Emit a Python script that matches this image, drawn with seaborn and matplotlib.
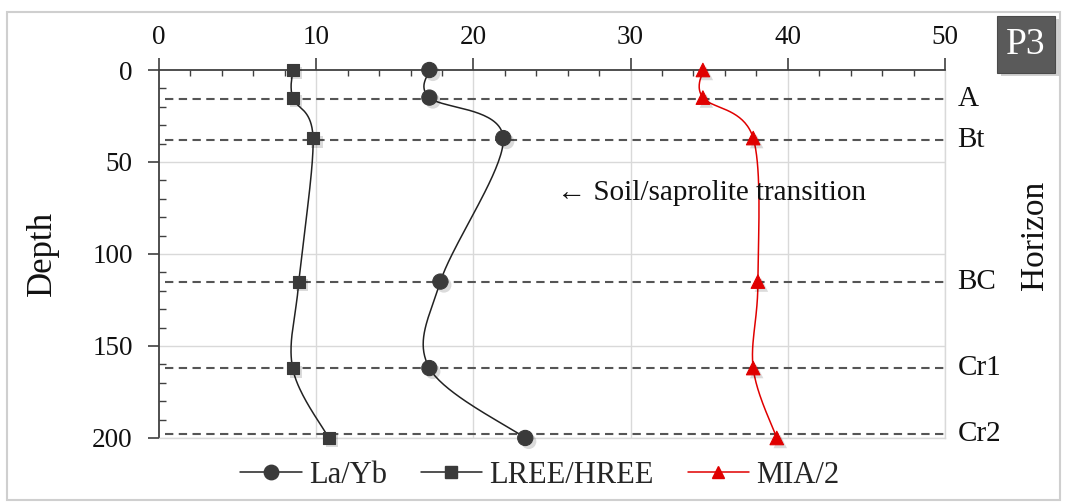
import numpy as np
import pandas as pd
import matplotlib
matplotlib.use("Agg")
import matplotlib.pyplot as plt
import seaborn as sns
from matplotlib import patheffects as pe
from matplotlib.lines import Line2D
from matplotlib.patches import Rectangle

# Profile P3 data
depth = [0, 15, 37, 115, 162, 200]
la_yb = [17.2, 17.2, 21.9, 17.9, 17.2, 23.3]
lree_hree = [8.5, 8.5, 9.8, 8.9, 8.5, 10.8]
mia_half = [34.6, 34.6, 37.8, 38.1, 37.8, 39.3]

horizons = ["A", "Bt", "BC", "Cr1", "Cr2"]
horizon_depth = [16, 38, 115, 162, 198]

x_ticks = [0, 10, 20, 30, 40, 50]
y_ticks = [0, 50, 100, 150, 200]

sns.set_style("white")
SERIF = ["Liberation Serif", "DejaVu Serif"]
plt.rcParams["font.family"] = SERIF

fig = plt.figure(figsize=(10.65, 5.04), dpi=100)
ax = fig.add_axes([0.1493, 0.1310, 0.7380, 0.7301])
ax.set_xlim(0, 50)
ax.set_ylim(200, 0)

DARK = "#404040"
GRID = "#d9d9d9"


def smooth(xs, ys, n=40):
    """Bezier smoothing in display space (spreadsheet-style smoothed line)."""
    pts = ax.transData.transform(np.column_stack([xs, ys]))
    m = len(pts)
    out = []
    for i in range(m - 1):
        p0 = pts[i]
        p1 = pts[i + 1]
        pm = pts[i - 1] if i > 0 else pts[i]
        pn = pts[i + 2] if i + 2 < m else pts[i + 1]
        c1 = p0 + (p1 - pm) / 6.0
        c2 = p1 - (pn - p0) / 6.0
        t = np.linspace(0, 1, n)[:, None]
        seg = ((1 - t) ** 3) * p0 + 3 * ((1 - t) ** 2) * t * c1 + 3 * (1 - t) * t ** 2 * c2 + t ** 3 * p1
        out.append(seg if i == 0 else seg[1:])
    curve = ax.transData.inverted().transform(np.vstack(out))
    return pd.DataFrame({"x": curve[:, 0], "depth": curve[:, 1]})


# grid
for v in x_ticks[1:]:
    ax.axvline(v, color=GRID, lw=1.0, zorder=0)
for v in y_ticks[1:]:
    ax.axhline(v, color=GRID, lw=1.0, zorder=0)

# horizon boundaries
ax.hlines(horizon_depth, 0.4, 50.1, colors="#555555", linestyles=(0, (4, 2.6)), lw=1.5,
          zorder=1, clip_on=False)
for name, d in zip(horizons, horizon_depth):
    ax.text(50.8, d, name, fontsize=21, ha="left", va="center", color="#111111")

series = [
    ("La/Yb", la_yb, "o", "#3a3a3a", "#222222", 120),
    ("LREE/HREE", lree_hree, "s", "#3a3a3a", "#222222", 75),
    ("MIA/2", mia_half, "^", "#e00000", "#e00000", 95),
]

shadow = [pe.SimplePatchShadow(offset=(2.5, -2.5), shadow_rgbFace="#000000", alpha=0.14), pe.Normal()]
handles = []
for label, vals, mk, fc, lc, size in series:
    curve = smooth(vals, depth)
    sns.lineplot(data=curve, x="x", y="depth", sort=False, estimator=None, color=lc,
                 lw=1.1, ax=ax, zorder=3)
    ax.lines[-1].set_clip_on(False)
    pts = pd.DataFrame({"x": vals, "depth": depth})
    sns.scatterplot(data=pts, x="x", y="depth", marker=mk, s=size, color=fc,
                    edgecolor=fc, linewidth=0.8, ax=ax, zorder=4)
    coll = ax.collections[-1]
    coll.set_path_effects(shadow)
    coll.set_clip_on(False)
    handles.append(Line2D([], [], color=lc, lw=1.1, marker=mk, markersize=np.sqrt(size) * 0.95,
                          markerfacecolor=fc, markeredgecolor=fc, label=label))

ax.set_xlim(0, 50)
ax.set_ylim(200, 0)

# axes styling
ax.xaxis.tick_top()
ax.set_xticks(x_ticks)
ax.set_xticks(np.arange(0, 51, 2), minor=True)
ax.set_yticks(y_ticks)
ax.set_yticks(np.arange(0, 201, 10), minor=True)
ax.tick_params(axis="x", which="major", direction="out", length=8.5, width=1.2, color=DARK,
               labelsize=19.5, pad=6, labelcolor="#111111", top=True, bottom=False)
ax.tick_params(axis="x", which="minor", direction="in", length=4, width=1.0, color=DARK,
               top=True, bottom=False)
ax.tick_params(axis="y", which="major", direction="out", length=8, width=1.2, color=DARK,
               labelsize=19.5, pad=11, labelcolor="#111111", left=True)
ax.tick_params(axis="y", which="minor", direction="in", length=5, width=1.0, color=DARK, left=True)
ax.set_xlabel("")
ax.set_ylabel("")
for side in ["top", "left"]:
    ax.spines[side].set_color(DARK)
    ax.spines[side].set_linewidth(1.3)
for side in ["right", "bottom"]:
    ax.spines[side].set_color(GRID)
    ax.spines[side].set_linewidth(1.0)

ax.text(25.3, 67, "\u2190 Soil/saprolite transition", fontsize=21, ha="left", va="center",
        color="#111111", family=SERIF)

fig.text(0.040, 0.497, "Depth", rotation=90, fontsize=25, ha="center", va="center", color="#111111")
fig.text(0.972, 0.532, "Horizon", rotation=90, fontsize=24, ha="center", va="center", color="#111111")

fig.legend(handles=handles, loc="center", bbox_to_anchor=(0.507, 0.0575), ncol=3, frameon=False,
           fontsize=22, handlelength=2.0, handletextpad=0.25, columnspacing=1.1)

# outer frame
fig.patches.append(Rectangle((0.0066, 0.008), 0.9887, 0.968, transform=fig.transFigure,
                             fill=False, edgecolor="#cfcfcf", lw=1.5, zorder=0))

# panel tag
fig.patches.append(Rectangle((0.9400, 0.849), 0.0545, 0.113, transform=fig.transFigure,
                             facecolor="#000000", alpha=0.18, edgecolor="none", zorder=5))
fig.patches.append(Rectangle((0.9362, 0.855), 0.0545, 0.113, transform=fig.transFigure,
                             facecolor="#5a5a5a", edgecolor="#4a4a4a", lw=0.8, zorder=6))
fig.text(0.9635, 0.9115, "P3", fontsize=27, color="white", ha="center", va="center", zorder=7)

fig.savefig("out.png", dpi=100)
